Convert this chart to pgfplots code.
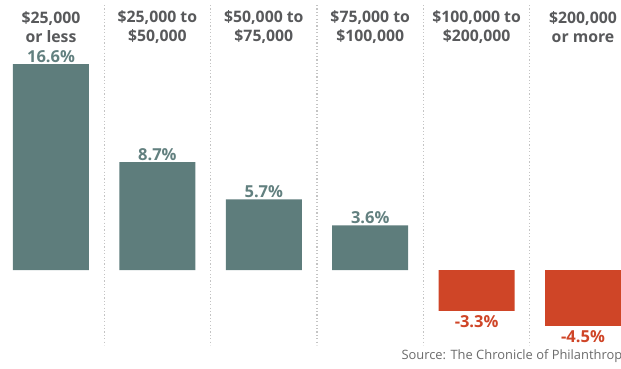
\documentclass[border=0pt]{standalone}
\usepackage{fontspec}
\setmainfont{Open Sans}
\usepackage{pgfplots}
\pgfplotsset{compat=1.18}
\definecolor{teal}{HTML}{5E7D7C}
\definecolor{tealtxt}{HTML}{62807F}
\definecolor{redb}{HTML}{CF4527}
\definecolor{hdr}{HTML}{58595B}
\definecolor{divc}{HTML}{C4C4C4}
\definecolor{srcc}{HTML}{6B6B6B}
\tikzset{hdrstyle/.style={align=center, text=hdr, font=\fontsize{15.8}{19.5}\selectfont\bfseries, anchor=center}}
\begin{document}
\begin{tikzpicture}
\begin{axis}[
  scale only axis, width=621pt, height=368pt,
  xmin=-0.4793, xmax=5.357, ymin=-7.903, ymax=21.774,
  axis lines=none, clip=false,
  ybar, bar width=76pt, bar shift=0pt,
  point meta=explicit symbolic,
  nodes near coords,
  every node near coord/.append style={font=\fontsize{16.5}{18}\selectfont\bfseries},
]
\addplot[fill=teal, draw=none, nodes near coords style={text=tealtxt, anchor=south, yshift=-2pt}]
  coordinates {(0,16.6) [16.6\%] (1,8.7) [8.7\%] (2,5.7) [5.7\%] (3,3.6) [3.6\%]};
\addplot[fill=redb, draw=none, nodes near coords style={text=redb, anchor=north, yshift=-1pt}]
  coordinates {(4,-3.3) [-3.3\%] (5,-4.5) [-4.5\%]};
\pgfplotsinvokeforeach{0.5,1.5,2.5,3.5,4.5}{
  \draw[divc, line width=1.3pt, dash pattern=on 1.2pt off 2.2pt] (axis cs:#1,21.37) -- (axis cs:#1,-6.05);
}
\node[hdrstyle] at (axis cs:0,19.6) {\$25,000\\or less};
\node[hdrstyle] at (axis cs:1,19.6) {\$25,000 to\\\$50,000};
\node[hdrstyle] at (axis cs:2,19.6) {\$50,000 to\\\$75,000};
\node[hdrstyle] at (axis cs:3,19.6) {\$75,000 to\\\$100,000};
\node[hdrstyle] at (axis cs:4,19.6) {\$100,000 to\\\$200,000};
\node[hdrstyle] at (axis cs:5,19.6) {\$200,000\\or more};
\node[anchor=west, text=srcc, font=\fontsize{12.9}{15}\selectfont] at (axis cs:3.261,-6.92) {Source: The Chronicle of Philanthropy};
\end{axis}
\pgfresetboundingbox
\useasboundingbox (current axis.south west) rectangle (current axis.north east);
\end{tikzpicture}
\end{document}
